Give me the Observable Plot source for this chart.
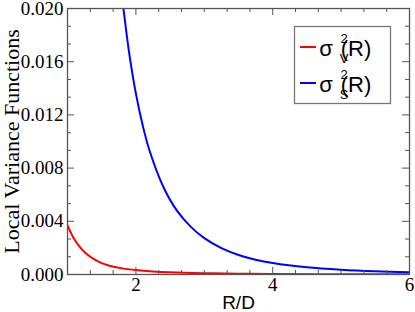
<!DOCTYPE html>
<html><head><meta charset="utf-8">
<script src="https://cdn.jsdelivr.net/npm/d3@7"></script>
<script src="https://cdn.jsdelivr.net/npm/@observablehq/plot@0.6"></script>
<style>body{margin:0;background:#fff}</style>
</head><body><div id="chart"></div>
<script>
// σ²_V(R): volume local variance
const rV = [1.0, 1.1, 1.2, 1.3, 1.4, 1.5, 1.6, 1.8, 2.0, 2.25, 2.5, 3.0, 3.5, 4.0, 5.0, 6.0];
const sigmaV = [0.0037, 0.00265, 0.00195, 0.00146, 0.00111, 0.00086, 0.00068, 0.00046, 0.00033, 0.00023, 0.00017, 0.0001, 0.00006, 0.00004, 0.00002, 0.00001];
// σ²_S(R): surface local variance
const rS = [1.75, 1.8, 1.9, 2.0, 2.1, 2.2, 2.4, 2.6, 2.8, 3.0, 3.25, 3.5, 3.75, 4.0, 4.5, 5.0, 5.5, 6.0];
const sigmaS = [0.0225, 0.0207, 0.0167, 0.0136, 0.0112, 0.0093, 0.0066, 0.0048, 0.0036, 0.00273, 0.00198, 0.00147, 0.00111, 0.00086, 0.00054, 0.000355, 0.00024, 0.00017];

const xTicks = [2, 4, 6];
const xMinor = [1.3333, 1.6667, 2.3333, 2.6667, 3, 3.3333, 3.6667, 4.3333, 4.6667, 5, 5.3333, 5.6667];
const yTicks = [0, 0.004, 0.008, 0.012, 0.016, 0.020];
const yMinor = [0.001333, 0.002667, 0.005333, 0.006667, 0.009333, 0.010667, 0.013333, 0.014667, 0.017333, 0.018667];

const seriesNames = ["V", "S"];
const colors = ["#ff0000", "#0000ff"];
const xTitle = "R/D";
const yTitle = "Local Variance Functions";

const W = 415, H = 312;
const mL = 67, mR = 6, mT = 8, mB = 38;
const fw = W - mL - mR, fh = H - mT - mB;

const dataV = rV.map((r, i) => ({r, v: sigmaV[i]}));
const dataS = rS.map((r, i) => ({r, v: sigmaS[i]}));

const serif = "'Liberation Serif', 'Times New Roman', 'DejaVu Serif', serif";
const sans = "'Liberation Sans', Arial, Helvetica, sans-serif";
const axisColor = "#555";

const chart = Plot.plot({
  width: W, height: H,
  marginLeft: mL, marginRight: mR, marginTop: mT, marginBottom: mB,
  x: {domain: [1, 6], axis: null},
  y: {domain: [0, 0.02], axis: null},
  style: {background: "white"},
  marks: [
    Plot.line(dataV, {x: "r", y: "v", stroke: colors[0], strokeWidth: 2, curve: "catmull-rom", clip: true}),
    Plot.line(dataS, {x: "r", y: "v", stroke: colors[1], strokeWidth: 2, curve: "catmull-rom", clip: true}),
    Plot.frame({stroke: axisColor, strokeWidth: 1.3}),
    Plot.tickX(xTicks, {x: d => d, insetTop: fh - 7, stroke: axisColor}),
    Plot.tickX(xTicks, {x: d => d, insetBottom: fh - 7, stroke: axisColor}),
    Plot.tickX(xMinor, {x: d => d, insetTop: fh - 4, stroke: axisColor}),
    Plot.tickX(xMinor, {x: d => d, insetBottom: fh - 4, stroke: axisColor}),
    Plot.tickY(yTicks, {y: d => d, insetRight: fw - 7, stroke: axisColor}),
    Plot.tickY(yTicks, {y: d => d, insetLeft: fw - 7, stroke: axisColor}),
    Plot.tickY(yMinor, {y: d => d, insetRight: fw - 4, stroke: axisColor}),
    Plot.tickY(yMinor, {y: d => d, insetLeft: fw - 4, stroke: axisColor}),
    Plot.axisX({ticks: xTicks, tickSize: 0, tickPadding: 3, fontSize: 19, fill: "black", label: null, tickFormat: d => String(d)}),
    Plot.axisY({ticks: yTicks, tickSize: 0, tickPadding: 4, fontSize: 19, fill: "black", label: null, tickFormat: d3.format(".3f")}),
    Plot.text([yTitle], {text: d => d, frameAnchor: "left", dx: -56, rotate: -90, textAnchor: "middle", lineAnchor: "middle", fontSize: 22, fill: "black"}),
    Plot.text([xTitle], {text: d => d, frameAnchor: "bottom", dy: 28, textAnchor: "middle", lineAnchor: "middle", fontSize: 19, fill: "black"})
  ]
});
document.getElementById("chart").append(chart);

const svg = d3.select(chart);
svg.selectAll("text").each(function () {
  const el = d3.select(this);
  el.style("font-family", el.text() === xTitle ? sans : serif);
});

// Legend
const lg = svg.append("g");
lg.append("rect").attr("x", 294.5).attr("y", 26.5).attr("width", 96).attr("height", 77)
  .attr("fill", "white").attr("stroke", "#777").attr("stroke-width", 1.3);
const rowY = [47, 83];
seriesNames.forEach((s, i) => {
  const y = rowY[i];
  lg.append("line").attr("x1", 300).attr("x2", 316).attr("y1", y).attr("y2", y)
    .attr("stroke", colors[i]).attr("stroke-width", 2);
  const t = (x, yy, txt, size) => lg.append("text").attr("x", x).attr("y", yy)
    .style("font-family", sans).style("font-size", size + "px").attr("fill", "black").text(txt);
  t(326, y + 9, "σ", 22);
  t(344, y - 4, "2", 13);
  t(344, y + 16, s, 13);
  t(356, y + 9, "(R)", 22);
});
</script>
</body></html>
